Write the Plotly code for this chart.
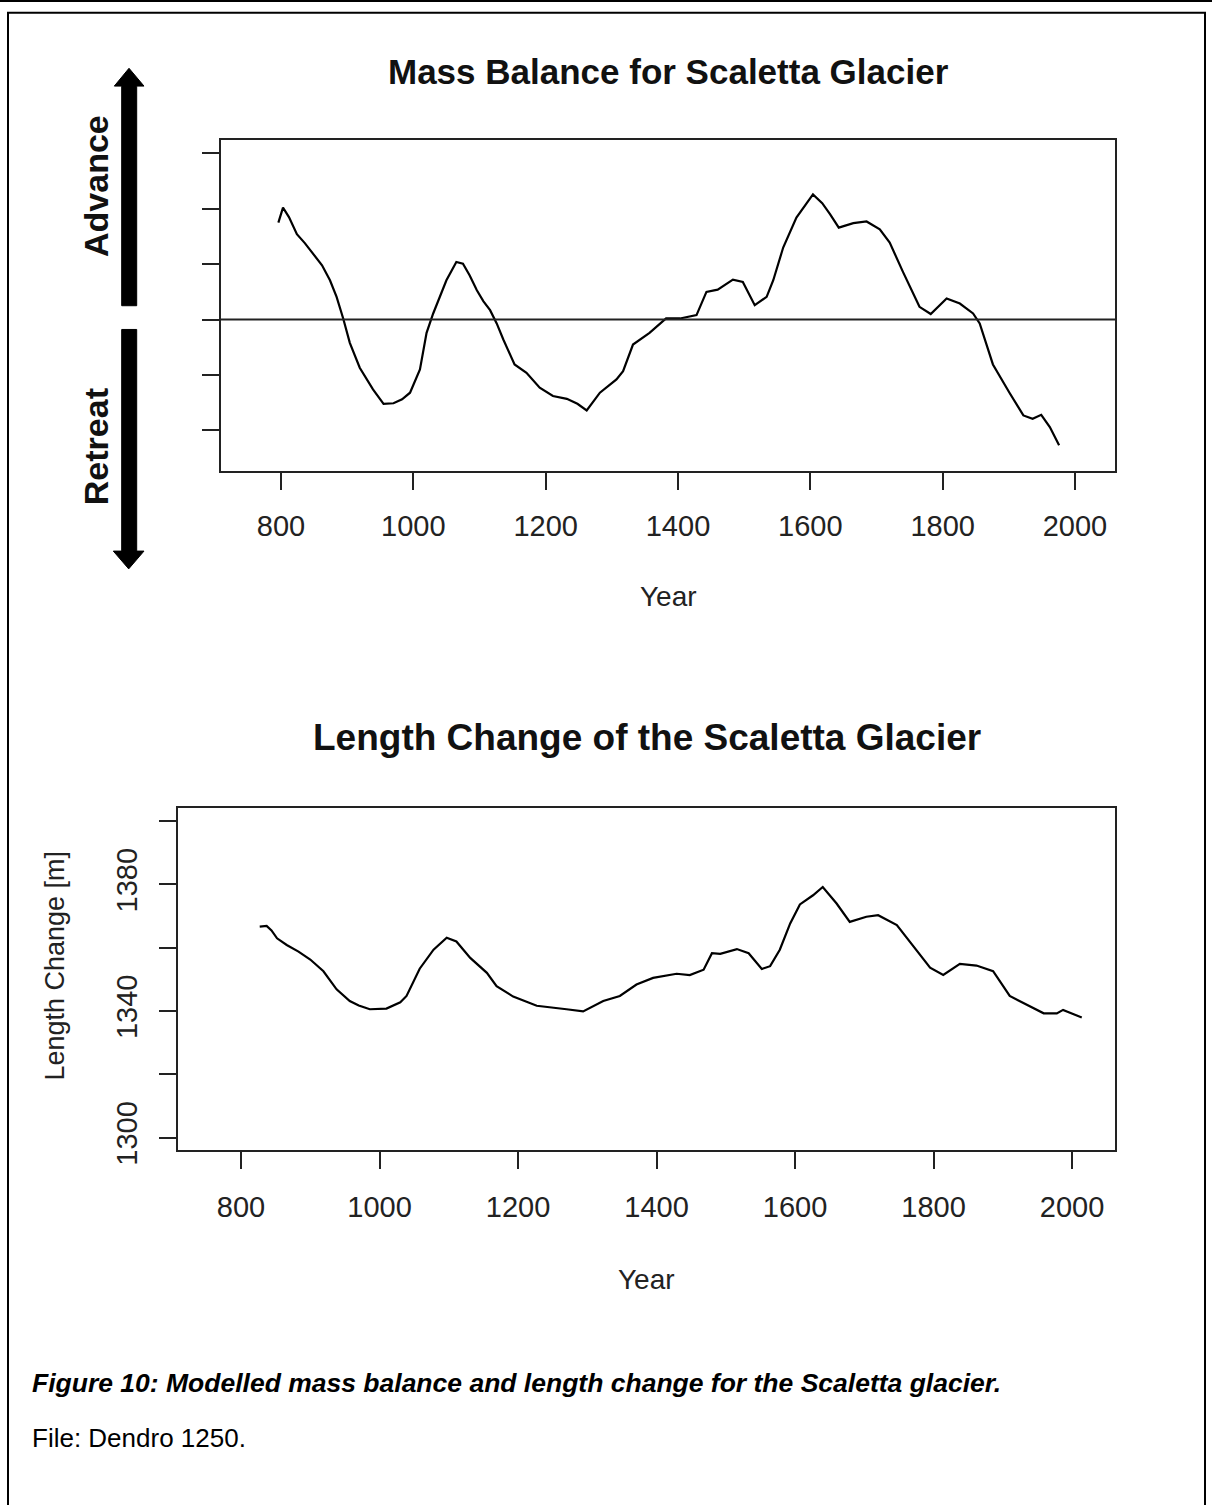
import plotly.graph_objects as go

W, H = 1212, 1505
FONT = "Liberation Sans, Arial, sans-serif"

# ---- Data: Mass balance (top panel) ----
mb_years = [796, 803, 812, 824, 836, 849, 862, 874, 884, 894, 904, 919, 939, 955, 970,
            983, 995, 1010, 1020, 1030, 1040, 1050, 1065, 1075, 1085, 1096, 1106, 1116,
            1126, 1136, 1153, 1171, 1191, 1211, 1232, 1248, 1262, 1282, 1307, 1317, 1332,
            1357, 1382, 1403, 1428, 1443, 1460, 1483, 1498, 1516, 1534, 1544, 1559, 1579,
            1604, 1618, 1630, 1643, 1665, 1685, 1705, 1720, 1740, 1765, 1782, 1806, 1826,
            1846, 1856, 1876, 1901, 1922, 1936, 1949, 1962, 1976]
mb_values = [1.75, 2.02, 1.85, 1.54, 1.38, 1.18, 0.98, 0.71, 0.41, 0.02, -0.42, -0.87,
             -1.26, -1.52, -1.51, -1.44, -1.32, -0.90, -0.24, 0.11, 0.42, 0.71, 1.04, 1.01,
             0.80, 0.53, 0.33, 0.17, -0.07, -0.36, -0.81, -0.96, -1.23, -1.38, -1.43, -1.52,
             -1.64, -1.32, -1.08, -0.93, -0.45, -0.24, 0.02, 0.02, 0.08, 0.50, 0.54, 0.72,
             0.68, 0.26, 0.41, 0.71, 1.30, 1.84, 2.26, 2.10, 1.90, 1.66, 1.74, 1.77, 1.63,
             1.39, 0.86, 0.23, 0.10, 0.38, 0.29, 0.11, -0.07, -0.81, -1.32, -1.73, -1.79,
             -1.72, -1.94, -2.27]

# ---- Data: Length change (bottom panel) ----
lc_years = [827, 837, 844, 852, 866, 883, 900, 919, 938, 957, 970, 986, 1010, 1030, 1039,
            1058, 1078, 1097, 1111, 1131, 1155, 1169, 1193, 1227, 1270, 1294, 1323, 1347,
            1371, 1395, 1429, 1448, 1468, 1480, 1492, 1516, 1533, 1552, 1564, 1578, 1593,
            1607, 1626, 1640, 1660, 1679, 1703, 1720, 1747, 1771, 1795, 1814, 1838, 1862,
            1886, 1910, 1944, 1959, 1978, 1987, 2014]
lc_values = [1366.7, 1366.9, 1365.5, 1363.0, 1360.9, 1358.8, 1356.3, 1352.6, 1346.9,
             1343.2, 1341.8, 1340.6, 1340.8, 1342.8, 1344.8, 1353.4, 1359.4, 1363.2,
             1362.0, 1356.8, 1352.1, 1347.9, 1344.6, 1341.7, 1340.6, 1339.9, 1343.2,
             1344.8, 1348.4, 1350.5, 1351.8, 1351.4, 1353.1, 1358.3, 1358.1, 1359.6,
             1358.3, 1353.3, 1354.2, 1359.4, 1367.7, 1373.7, 1376.6, 1379.2, 1374.0,
             1368.2, 1369.8, 1370.3, 1367.2, 1360.4, 1353.7, 1351.4, 1354.9, 1354.4,
             1352.6, 1344.8, 1340.9, 1339.3, 1339.3, 1340.4, 1338.0]

x_ticks = [800, 1000, 1200, 1400, 1600, 1800, 2000]
mb_yticks = [-2, -1, 0, 1, 2, 3]
lc_yticks = [1300, 1320, 1340, 1360, 1380, 1400]
lc_yticktext = ["1300", "", "1340", "", "1380", ""]


def px(x):
    return x / W


def py(y):
    return 1 - y / H


def path(points):
    return "M " + " L ".join(f"{px(a):.5f},{py(b):.5f}" for a, b in points) + " Z"


fig = go.Figure()
fig.add_trace(go.Scatter(x=mb_years, y=mb_values, mode="lines",
                         line=dict(color="black", width=2.2), xaxis="x", yaxis="y"))
fig.add_trace(go.Scatter(x=lc_years, y=lc_values, mode="lines",
                         line=dict(color="black", width=2.2), xaxis="x2", yaxis="y2"))

axis_common = dict(showline=True, linecolor="#222", linewidth=2, mirror=True,
                   ticks="outside", ticklen=17, tickwidth=2, tickcolor="#222",
                   showgrid=False, zeroline=False,
                   tickfont=dict(family=FONT, size=29, color="#222"))

fig.update_layout(
    width=W, height=H, margin=dict(l=0, r=0, t=0, b=0),
    paper_bgcolor="white", plot_bgcolor="white", showlegend=False,
    xaxis=dict(domain=[px(221), px(1115)], anchor="y", range=[709.3, 2060.5],
               tickvals=x_ticks, ticklabelstandoff=11, **axis_common),
    yaxis=dict(domain=[py(476), py(141)], anchor="x", range=[-2.732, 3.25],
               tickvals=mb_yticks, showticklabels=False, **axis_common),
    xaxis2=dict(domain=[px(178), px(1115)], anchor="y2", range=[709, 2062],
                tickvals=x_ticks, ticklabelstandoff=14, **axis_common),
    yaxis2=dict(domain=[py(1162), py(817)], anchor="x2", range=[1296.25, 1404.06],
                tickvals=lc_yticks, ticktext=lc_yticktext, tickangle=-90,
                ticklabelstandoff=10, **axis_common),
)

ann = []


def add_text(text, x, y, size, angle=0, xanchor="center", color="#111"):
    ann.append(dict(text=text, x=px(x), y=py(y), xref="paper", yref="paper",
                    showarrow=False, textangle=angle, xanchor=xanchor, yanchor="middle",
                    font=dict(family=FONT, size=size, color=color)))


add_text("<b>Mass Balance for Scaletta Glacier</b>", 668, 72, 35)
add_text("<b>Length Change of the Scaletta Glacier</b>", 646.5, 745, 37)
add_text("Year", 668, 603, 28, color="#222")
add_text("Year", 646, 1293, 28, color="#222")
add_text("Length Change [m]", 55, 976, 27, angle=-90, color="#222")
add_text("<b>Advance</b>", 96, 188, 34, angle=-90)
add_text("<b>Retreat</b>", 96, 452, 34, angle=-90)
add_text("<b><i>Figure 10: Modelled mass balance and length change for the Scaletta glacier.</i></b>",
         30, 1398, 26.5, xanchor="left", color="black")
add_text("File: Dendro 1250.", 30, 1453, 26, xanchor="left", color="black")
fig.update_layout(annotations=ann)

shapes = [
    dict(type="line", xref="x domain", yref="y", x0=0, x1=1, y0=0, y1=0,
         line=dict(color="#222", width=2)),
    dict(type="line", xref="paper", yref="paper", x0=0, x1=1, y0=py(1), y1=py(1),
         line=dict(color="black", width=2)),
    dict(type="rect", xref="paper", yref="paper", x0=px(8), x1=px(1205),
         y0=py(13), y1=-0.05, line=dict(color="black", width=2)),
    dict(type="path", xref="paper", yref="paper", fillcolor="black",
         line=dict(color="black", width=1),
         path=path([(129, 69), (144, 87), (136.7, 87), (136.7, 309), (121.7, 309),
                    (121.7, 87), (114.3, 87)])),
    dict(type="path", xref="paper", yref="paper", fillcolor="black",
         line=dict(color="black", width=1),
         path=path([(121.7, 333), (136.7, 333), (136.7, 557), (144, 557), (128.7, 575),
                    (113.3, 557), (121.7, 557)])),
]
fig.update_layout(shapes=shapes)

fig.write_html("out.html")
